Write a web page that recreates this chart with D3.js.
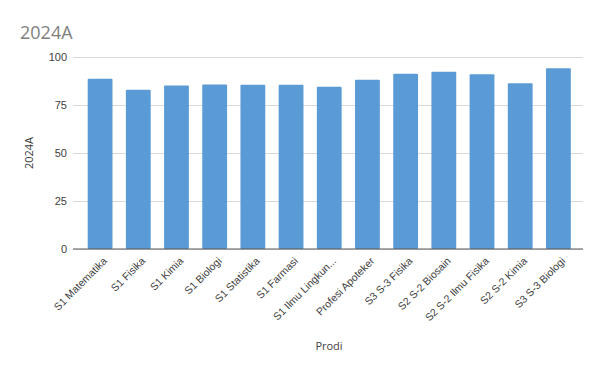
<!DOCTYPE html>
<html lang="en">
<head>
<meta charset="UTF-8" />
<title>2024A</title>
<script src="https://d3js.org/d3.v7.min.js"></script>
<style>
  body { margin: 0; background: #fff; }
  svg { display: block; font-family: "Open Sans", "Noto Sans", sans-serif; }
</style>
</head>
<body>
<div id="chart"></div>
<script>
// Prodi categories and 2024A values
const prodi = [
  "S1 Matematika", "S1 Fisika", "S1 Kimia", "S1 Biologi", "S1 Statistika",
  "S1 Farmasi", "S1 Ilmu Lingkun...", "Profesi Apoteker", "S3 S-3 Fisika",
  "S2 S-2 Biosain", "S2 S-2 Ilmu Fisika", "S2 S-2 Kimia", "S3 S-3 Biologi"
];
const values2024A = [88.7, 83.0, 85.2, 85.7, 85.6, 85.6, 84.5, 88.2, 91.3, 92.3, 91.0, 86.3, 94.1];
const yTicks = [0, 25, 50, 75, 100];

const width = 602, height = 372;
const margin = { top: 57, right: 19, bottom: 123, left: 73 };

const svg = d3.select("#chart").append("svg")
  .attr("width", width)
  .attr("height", height);

// bars sit a bit inside the gridline span
const x = d3.scaleBand()
  .domain(prodi)
  .range([81, 577.5])
  .paddingInner(0.35)
  .paddingOuter(0.175);

const y = d3.scaleLinear()
  .domain([0, 100])
  .range([height - margin.bottom, margin.top]);

// title
svg.append("text")
  .attr("x", 20)
  .attr("y", 39)
  .attr("font-size", 18)
  .attr("fill", "#7f7f7f")
  .text("2024A");

// gridlines + y labels
const yAxis = svg.append("g")
  .attr("transform", `translate(${margin.left},0)`)
  .call(d3.axisLeft(y).tickValues(yTicks)
    .tickSize(-(width - margin.left - margin.right))
    .tickPadding(6));
yAxis.select(".domain").remove();
yAxis.selectAll(".tick line").attr("stroke", "#d9d9d9");
yAxis.selectAll(".tick text")
  .attr("font-size", 11)
  .attr("fill", "#404040");

// bars
svg.append("g").selectAll("rect")
  .data(prodi.map((p, i) => ({ p, v: values2024A[i] })))
  .join("rect")
  .attr("x", d => x(d.p))
  .attr("y", d => y(d.v))
  .attr("width", x.bandwidth())
  .attr("height", d => y(0) - y(d.v))
  .attr("rx", 1)
  .attr("fill", "#5b9bd5");

// x axis line across the whole plot, labels at bar centres
svg.append("line")
  .attr("x1", margin.left).attr("x2", width - margin.right)
  .attr("y1", y(0)).attr("y2", y(0))
  .attr("stroke", "#595959").attr("stroke-width", 1.2);

const xAxis = svg.append("g")
  .attr("transform", `translate(0,${y(0)})`)
  .call(d3.axisBottom(x).tickSize(0).tickPadding(0));
xAxis.select(".domain").remove();
xAxis.selectAll(".tick text")
  .attr("font-size", 10.5)
  .attr("fill", "#404040")
  .attr("text-anchor", "end")
  .attr("dy", "0.35em")
  .attr("transform", "translate(5,10) rotate(-45)");

// axis titles
svg.append("text")
  .attr("transform", `translate(33,${(y(0) + y(100)) / 2}) rotate(-90)`)
  .attr("text-anchor", "middle")
  .attr("font-size", 11)
  .attr("fill", "#404040")
  .text("2024A");

svg.append("text")
  .attr("x", 329)
  .attr("y", 350)
  .attr("text-anchor", "middle")
  .attr("font-size", 11)
  .attr("fill", "#404040")
  .text("Prodi");
</script>
</body>
</html>
